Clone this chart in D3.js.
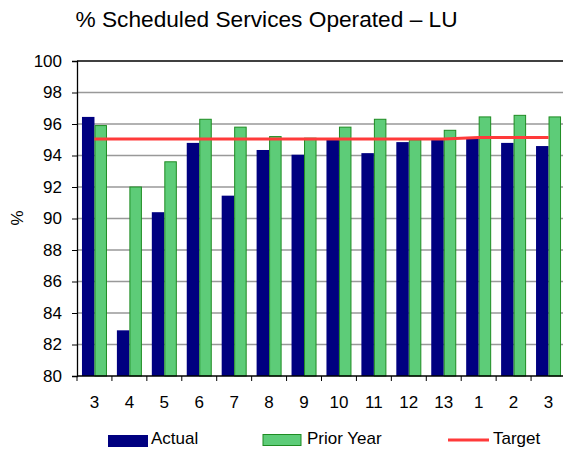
<!DOCTYPE html>
<html>
<head>
<meta charset="utf-8">
<script src="https://cdn.jsdelivr.net/npm/d3@7"></script>
<style>
	body { margin: 0; background: #fff; }
	svg { display: block; font-family: Arial, "Liberation Sans", sans-serif; }
</style>
</head>
<body>
<svg id="chart" width="563" height="450"></svg>
<script>
var FONT_SIZE = 17;

// periods (financial year periods)
var periods = ['3', '4', '5', '6', '7', '8', '9', '10', '11', '12', '13', '1', '2', '3'];
var actual = [96.45, 82.9, 90.4, 94.8, 91.45, 94.35, 94.05, 95.0, 94.15, 94.85, 95.0, 95.05, 94.8, 94.6];
var prior_year = [95.9, 92.0, 93.6, 96.3, 95.8, 95.2, 95.1, 95.8, 96.3, 95.0, 95.6, 96.45, 96.55, 96.45];
var target = [95.05, 95.05, 95.05, 95.05, 95.05, 95.05, 95.05, 95.05, 95.05, 95.05, 95.05, 95.15, 95.15, 95.15];
var y_ticks = [80, 82, 84, 86, 88, 90, 92, 94, 96, 98, 100];

var svg = d3.select('#chart');

var plot = {'left': 77, 'right': 566, 'top': 61, 'bottom': 376};

// keys are indexes since period labels repeat
var x = d3.scaleBand().domain(d3.range(periods.length)).range([plot.left, plot.right]).padding(0);
var y = d3.scaleLinear().domain([80, 100]).range([plot.bottom, plot.top]);

var bar_w = 12.5;

svg.append('text')
	.attr('x', 266.5)
	.attr('y', 27)
	.attr('text-anchor', 'middle')
	.attr('font-size', '22.7px')
	.text('% Scheduled Services Operated \u2013 LU');

// gridlines
svg.append('g').selectAll('line')
	.data(y_ticks.slice(1, -1))
	.enter().append('line')
	.attr('x1', plot.left).attr('x2', plot.right)
	.attr('y1', function (d) { return y(d); })
	.attr('y2', function (d) { return y(d); })
	.attr('stroke', '#999').attr('stroke-width', 1.3);

svg.append('line')
	.attr('x1', plot.left).attr('x2', plot.right)
	.attr('y1', plot.top).attr('y2', plot.top)
	.attr('stroke', '#000').attr('stroke-width', 1.3);

// bars
svg.append('g').selectAll('rect')
	.data(actual)
	.enter().append('rect')
	.attr('x', function (d, i) { return x(i) + x.bandwidth() / 2 - bar_w; })
	.attr('y', function (d) { return y(d); })
	.attr('width', bar_w)
	.attr('height', function (d) { return y(80) - y(d); })
	.attr('fill', '#000080');

svg.append('g').selectAll('rect')
	.data(prior_year)
	.enter().append('rect')
	.attr('x', function (d, i) { return x(i) + x.bandwidth() / 2 + 0.5; })
	.attr('y', function (d) { return y(d); })
	.attr('width', bar_w - 1)
	.attr('height', function (d) { return y(80) - y(d); })
	.attr('fill', '#5dcc78')
	.attr('stroke', '#1e8c22').attr('stroke-width', 1);

// target line
var line = d3.line()
	.x(function (d, i) { return x(i) + x.bandwidth() / 2; })
	.y(function (d) { return y(d); });

svg.append('path')
	.datum(target)
	.attr('d', line)
	.attr('fill', 'none')
	.attr('stroke', '#ff3a3a').attr('stroke-width', 3);

// axes
var y_axis = d3.axisLeft(y).tickValues(y_ticks).tickSize(5).tickPadding(10);
var yg = svg.append('g').attr('transform', 'translate(' + plot.left + ',0)').call(y_axis);
yg.select('.domain').attr('stroke', '#000').attr('stroke-width', 1.3);
yg.selectAll('text').attr('font-size', FONT_SIZE + 'px').attr('fill', '#000').attr('font-family', null);

var xg = svg.append('g').attr('transform', 'translate(0,' + plot.bottom + ')');
xg.append('line').attr('x1', plot.left).attr('x2', plot.right).attr('stroke', '#000').attr('stroke-width', 1.3);
xg.selectAll('.tick_mark')
	.data(d3.range(periods.length))
	.enter().append('line')
	.attr('class', 'tick_mark')
	.attr('x1', function (d) { return x(d); })
	.attr('x2', function (d) { return x(d); })
	.attr('y1', 0).attr('y2', 5)
	.attr('stroke', '#000');
xg.selectAll('text')
	.data(periods)
	.enter().append('text')
	.attr('x', function (d, i) { return x(i) + x.bandwidth() / 2; })
	.attr('y', 32)
	.attr('text-anchor', 'middle')
	.attr('font-size', FONT_SIZE + 'px')
	.text(function (d) { return d; });

svg.append('text')
	.attr('transform', 'translate(23,218) rotate(-90)')
	.attr('text-anchor', 'middle')
	.attr('font-size', FONT_SIZE + 'px')
	.text('%');

// legend
var legend = svg.append('g');
legend.append('rect').attr('x', 108).attr('y', 435).attr('width', 40).attr('height', 12).attr('fill', '#000080');
legend.append('text').attr('x', 151).attr('y', 444).attr('font-size', FONT_SIZE + 'px').text('Actual');
legend.append('rect').attr('x', 263).attr('y', 434.5).attr('width', 38).attr('height', 11)
	.attr('fill', '#5dcc78').attr('stroke', '#1e8c22');
legend.append('text').attr('x', 307).attr('y', 444).attr('font-size', FONT_SIZE + 'px').text('Prior Year');
legend.append('line').attr('x1', 448).attr('x2', 489).attr('y1', 440).attr('y2', 440)
	.attr('stroke', '#ff3a3a').attr('stroke-width', 3);
legend.append('text').attr('x', 493).attr('y', 444).attr('font-size', FONT_SIZE + 'px').text('Target');
</script>
</body>
</html>
